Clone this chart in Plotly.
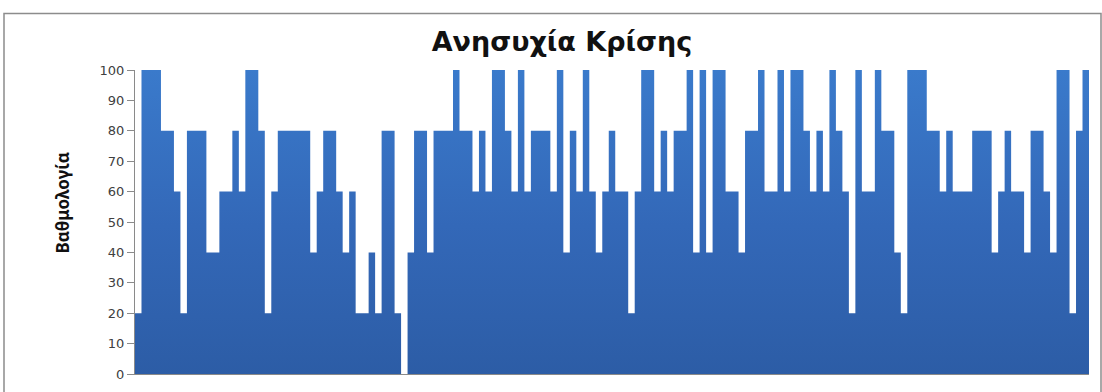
import plotly.graph_objects as go

# Scores per respondent (0-100 scale, steps of 20)
respondents = list(range(1, 148))
scores = [
    20, 100, 100, 100, 80, 80, 60, 20, 80, 80, 80, 40, 40, 60, 60, 80, 60, 100, 100, 80,
    20, 60, 80, 80, 80, 80, 80, 40, 60, 80, 80, 60, 40, 60, 20, 20, 40, 20, 80, 80, 20,
    0, 40, 80, 80, 40, 80, 80, 80, 100, 80, 80, 60, 80, 60, 100, 100, 80, 60, 100, 60, 80, 80, 80,
    60, 100, 40, 80, 60, 100, 60, 40, 60, 80, 60, 60, 20, 60, 100, 100, 60, 80, 60,
    80, 80, 100, 40, 100, 40, 100, 100, 60, 60, 40, 80, 80, 100, 60, 60, 100, 60, 100, 100, 80,
    60, 80, 60, 100, 80, 60, 20, 100, 60, 60, 100, 80, 80, 40, 20, 100, 100, 100, 80, 80,
    60, 80, 60, 60, 60, 80, 80, 80, 40, 60, 80, 60, 60, 40, 80, 80, 60, 40, 100, 100, 20, 80, 100,
]
y_ticks = [0, 10, 20, 30, 40, 50, 60, 70, 80, 90, 100]

title_text = "Ανησυχία Κρίσης"
y_title = "Βαθμολογία"

# Each bar is one category wide; the columns are drawn as a stepped fill so
# they can carry a vertical colour gradient (dark at the base, light on top).
bar_edges = [r - 0.5 for r in respondents] + [respondents[-1] + 0.5]
bar_heights = scores + [scores[-1]]

fig = go.Figure(
    go.Scatter(
        x=bar_edges,
        y=bar_heights,
        mode="lines",
        line=dict(shape="hv", width=0, color="#3570c0"),
        fill="tozeroy",
        fillgradient=dict(
            type="vertical",
            start=0,
            stop=100,
            colorscale=[[0, "#2c5ca5"], [0.5, "#3368b8"], [1, "#3a7acb"]],
        ),
        hoverinfo="skip",
    )
)

W, H = 1102, 392
L, R, T, B = 135, 13, 70, 10
pw, ph = W - L - R, H - T - B

fig.update_layout(
    width=W,
    height=H,
    margin=dict(l=L, r=R, t=T, b=B),
    paper_bgcolor="white",
    plot_bgcolor="white",
    showlegend=False,
    title=dict(
        text=title_text,
        x=562 / W,
        xanchor="center",
        y=1 - 42 / H,
        yanchor="middle",
        font=dict(family="DejaVu Sans", size=27, color="#111111", weight="bold"),
    ),
    xaxis=dict(
        range=[0.5, len(respondents) + 0.5],
        showticklabels=False,
        ticks="",
        showgrid=False,
        zeroline=False,
        showline=True,
        linecolor="#8a8a8a",
        linewidth=1,
    ),
    yaxis=dict(
        range=[0, 100],
        tickvals=y_ticks,
        ticks="outside",
        ticklen=7,
        tickcolor="#8a8a8a",
        showgrid=False,
        zeroline=False,
        showline=True,
        linecolor="#8a8a8a",
        linewidth=1,
        tickfont=dict(family="DejaVu Sans", size=13, color="#404040"),
    ),
    annotations=[
        dict(
            text=y_title,
            xref="paper",
            yref="paper",
            x=(62 - L) / pw,
            y=(H - B - 207) / ph,
            xanchor="center",
            yanchor="middle",
            textangle=-90,
            showarrow=False,
            font=dict(family="Noto Sans", size=17, color="#111111", weight="bold"),
        )
    ],
    shapes=[
        dict(
            type="rect",
            xref="paper",
            yref="paper",
            x0=(4 - L) / pw,
            x1=(1101 - L) / pw,
            y0=-0.2,
            y1=1 + (T - 12) / ph,
            line=dict(color="#8c8c8c", width=1.5),
            fillcolor="rgba(0,0,0,0)",
            layer="below",
        )
    ],
)

fig.write_html("out.html")
